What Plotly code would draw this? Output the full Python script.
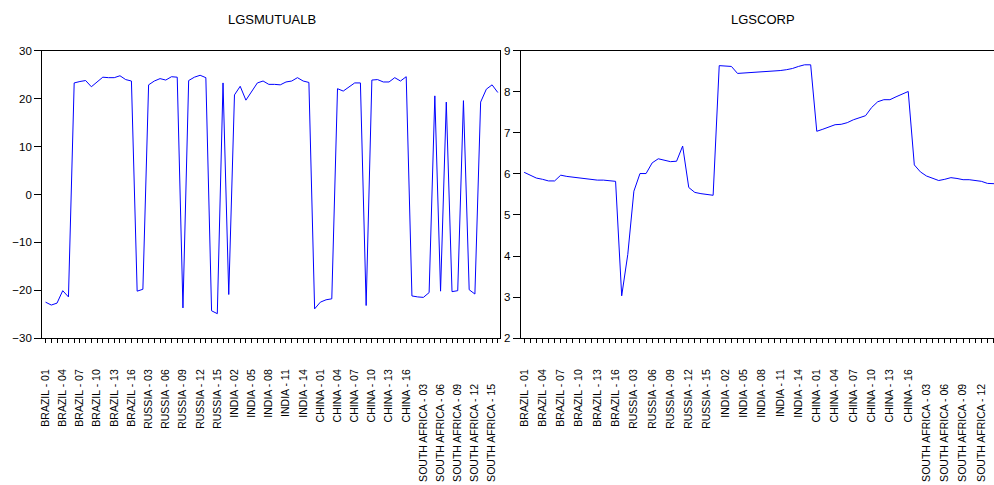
import plotly.graph_objects as go

countries = ["BRAZIL", "RUSSIA", "INDIA", "CHINA", "SOUTH AFRICA"]
periods = ["01", "02", "03", "04", "05", "06", "07", "08",
           "09", "10", "11", "12", "13", "14", "15", "16"]
categories = [f"{c} - {p}" for c in countries for p in periods]

lgsmutualb = [
    -22.5, -23.1, -22.7, -20.1, -21.4, 23.3, 23.6, 23.8, 22.5, 23.5, 24.5, 24.4, 24.4, 24.8, 24.0, 23.7,
    -20.2, -19.8, 22.9, 23.7, 24.2, 23.9, 24.6, 24.5, -23.7, 23.8, 24.5, 24.9, 24.4, -24.3, -24.9, 23.3,
    -20.9, 20.8, 22.6, 19.7, 21.6, 23.3, 23.7, 23.0, 23.0, 22.9, 23.5, 23.7, 24.4, 23.7, 23.4, -23.9,
    -22.5, -22.0, -21.8, 22.1, 21.6, 22.5, 23.3, 23.3, -23.2, 23.9, 24.0, 23.5, 23.5, 24.4, 23.7, 24.6,
    -21.2, -21.4, -21.5, -20.5, 20.6, -20.2, 19.3, -20.3, -20.1, 19.6, -19.9, -20.8, 19.3, 22.0, 22.9, 21.3,
]

lgscorp = [
    6.04, 5.97, 5.90, 5.87, 5.83, 5.83, 5.97, 5.94, 5.92, 5.91, 5.89, 5.86, 5.85, 5.85, 5.83, 5.82,
    3.03, 4.04, 5.58, 6.01, 6.01, 6.27, 6.37, 6.33, 6.30, 6.31, 6.68, 5.67, 5.55, 5.52, 5.50, 5.48,
    8.64, 8.63, 8.62, 8.45, 8.46, 8.47, 8.48, 8.48, 8.49, 8.51, 8.52, 8.54, 8.57, 8.62, 8.66, 8.66,
    7.04, 7.09, 7.15, 7.20, 7.21, 7.25, 7.32, 7.37, 7.42, 7.62, 7.76, 7.81, 7.81, 7.88, 7.94, 8.01,
    6.22, 6.05, 5.95, 5.90, 5.84, 5.87, 5.91, 5.89, 5.86, 5.86, 5.84, 5.82, 5.77, 5.77, 5.76, 5.75,
]

titles = ["LGSMUTUALB", "LGSCORP"]

W, H = 994, 485
FONT = "Liberation Sans, Arial, sans-serif"
xpos = list(range(len(categories)))
tick_idx = xpos[::3]
tick_text = []
for i in tick_idx:
    lab = categories[i]
    if lab.startswith("SOUTH AFRICA"):
        lab = lab + "\u00a0" * 5
    tick_text.append(lab)

fig = go.Figure()
fig.add_trace(go.Scatter(x=xpos, y=lgsmutualb, mode="lines",
                         line=dict(color="#0000ff", width=1), xaxis="x", yaxis="y",
                         showlegend=False, hoverinfo="skip"))
fig.add_trace(go.Scatter(x=xpos, y=lgscorp, mode="lines",
                         line=dict(color="#0000ff", width=1), xaxis="x2", yaxis="y2",
                         showlegend=False, hoverinfo="skip"))

ydom = [1 - 340.5 / H, 1 - 46 / H]

xcommon = dict(
    tickmode="array", tickvals=tick_idx, ticktext=tick_text, tickangle=-90,
    ticks="outside", ticklen=4, tickcolor="#000", tickwidth=1,
    minor=dict(tickmode="linear", tick0=0, dtick=1, ticks="outside", ticklen=4,
               tickcolor="#000", tickwidth=1, showgrid=False),
    showline=True, linecolor="#000", linewidth=1, mirror=True,
    showgrid=False, zeroline=False,
    tickfont=dict(family=FONT, size=10.5, color="#000"),
    ticklabelstandoff=22,
)
ycommon = dict(
    ticks="outside", ticklen=7, tickcolor="#000", tickwidth=1,
    showline=True, linecolor="#000", linewidth=1,
    showgrid=False, zeroline=False,
    tickfont=dict(family=FONT, size=11.5, color="#000"),
)

fig.update_layout(
    width=W, height=H,
    margin=dict(l=0, r=0, t=0, b=0),
    paper_bgcolor="white", plot_bgcolor="white",
    xaxis=dict(domain=[39.3 / W, 499 / W], range=[-0.59, 79.47], anchor="y", **xcommon),
    yaxis=dict(domain=ydom, range=[-30, 30], dtick=10, anchor="x", mirror=True, **ycommon),
    xaxis2=dict(domain=[519.3 / W, 1.0], range=[-0.56, 77.07], anchor="y2", **xcommon),
    yaxis2=dict(domain=ydom, range=[2, 9], dtick=1, anchor="x2", **ycommon),
    annotations=[
        dict(text=titles[0], x=269.5 / W, y=1 - 14 / H, xref="paper", yref="paper",
             showarrow=False, xanchor="center", yanchor="middle",
             font=dict(family=FONT, size=13, color="#000")),
        dict(text=titles[1], x=762 / W, y=1 - 14 / H, xref="paper", yref="paper",
             showarrow=False, xanchor="center", yanchor="middle",
             font=dict(family=FONT, size=13, color="#000")),
    ],
)

fig.write_html("out.html")
